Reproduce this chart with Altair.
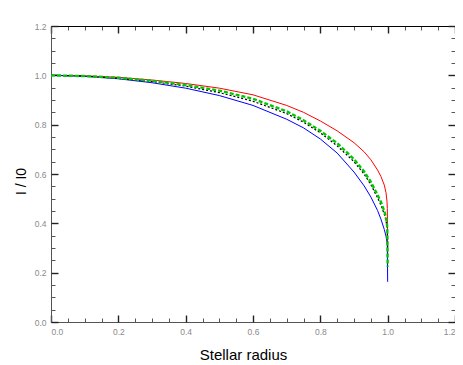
import altair as alt
import pandas as pd

# ---- data (I/I0 vs stellar radius) ----
radius = [0.0, 0.1, 0.2, 0.3, 0.4, 0.5, 0.6, 0.7, 0.75, 0.8, 0.85, 0.9, 0.93,
          0.95, 0.97, 0.98, 0.99, 0.995, 0.998, 0.999, 1.0]

red_I = [1.0, 0.998, 0.992, 0.981, 0.967, 0.948, 0.921, 0.878, 0.850, 0.815,
         0.775, 0.727, 0.690, 0.658, 0.616, 0.590, 0.555, 0.525, 0.490, 0.46, 0.27]
blue_I = [1.0, 0.996, 0.986, 0.970, 0.948, 0.918, 0.878, 0.822, 0.787, 0.742,
          0.685, 0.608, 0.552, 0.507, 0.452, 0.417, 0.375, 0.348, 0.324, 0.307, 0.163]
black_I = [1.0, 0.997, 0.988, 0.975, 0.956, 0.930, 0.895, 0.845, 0.810, 0.767,
           0.714, 0.650, 0.600, 0.557, 0.504, 0.474, 0.437, 0.412, 0.387, 0.362, 0.30]
green_I = [1.0, 0.997, 0.990, 0.978, 0.961, 0.938, 0.905, 0.854, 0.818, 0.775,
           0.725, 0.660, 0.610, 0.568, 0.515, 0.487, 0.450, 0.425, 0.397, 0.372, 0.224]

x_major = [0.0, 0.2, 0.4, 0.6, 0.8, 1.0, 1.2]
y_major = [0.0, 0.2, 0.4, 0.6, 0.8, 1.0, 1.2]
minor_step_count = 24  # ticks every 0.05 between 0 and 1.2
all_ticks = [round(k * 0.05, 2) for k in range(minor_step_count + 1)]

series = [("red", red_I, "#ff0000", 1.0, None),
          ("blue", blue_I, "#0000ff", 1.0, None),
          ("black", black_I, "#000000", 1.2, [2, 2]),
          ("green", green_I, "#00c800", 2.4, [4, 2])]

W, H = 404, 296
xscale = alt.Scale(domain=[0, 1.2], nice=False, zero=False)
yscale = alt.Scale(domain=[0, 1.2], nice=False, zero=False)

major_test = "abs(datum.value*5 - round(datum.value*5)) < 0.001"
tick_size = {"condition": {"test": major_test, "value": 7}, "value": 4}
tick_color = {"condition": {"test": major_test, "value": "#222222"}, "value": "#555555"}
tick_width = {"condition": {"test": major_test, "value": 1.4}, "value": 1}

LABEL = dict(labelColor="#8a8a8a", labelFontSize=8.5, labelFont="Liberation Sans")

ax_x = {
    "labels": alt.Axis(orient="bottom", values=x_major, format=".1f", ticks=False,
                       domain=True, domainColor="#555555", grid=False, labelPadding=5,
                       title="Stellar radius", titleFont="Liberation Sans",
                       titleFontSize=15, titleFontWeight="normal", titleColor="#000000",
                       titleAnchor="start", titleAlign="center", titleX=192, titleY=37,
                       titleBaseline="alphabetic", **LABEL),
    "bottom_ticks": alt.Axis(orient="top", offset=-H, values=all_ticks, labels=False,
                             domain=False, grid=False, title=None,
                             tickSize=tick_size, tickColor=tick_color, tickWidth=tick_width),
    "top_ticks": alt.Axis(orient="bottom", offset=-H, values=all_ticks, labels=False,
                          domain=True, domainColor="#000000", grid=False, title=None,
                          tickSize=tick_size, tickColor=tick_color, tickWidth=tick_width),
}
ax_y = {
    "labels": alt.Axis(orient="left", values=y_major, format=".1f", ticks=False,
                       domain=True, domainColor="#555555", grid=False, labelPadding=5,
                       title="I / I0", titleFont="Liberation Sans", titleFontSize=14,
                       titleFontWeight="normal", titleColor="#000000",
                       titleAngle=270, titleX=-30, titleY=155, titleAlign="center",
                       titleBaseline="middle", **LABEL),
    "left_ticks": alt.Axis(orient="right", offset=-W, values=all_ticks, labels=False,
                           domain=False, grid=False, title=None,
                           tickSize=tick_size, tickColor=tick_color, tickWidth=tick_width),
    "right_ticks": alt.Axis(orient="left", offset=-W, values=all_ticks, labels=False,
                            domain=True, domainColor="#000000", grid=False, title=None,
                            tickSize=tick_size, tickColor=tick_color, tickWidth=tick_width),
}
x_keys = ["labels", "bottom_ticks", "top_ticks", None]
y_keys = ["labels", "left_ticks", "right_ticks", None]

layers = []
for k, (name, vals, color, width, dash) in enumerate(series):
    df = pd.DataFrame({"r": radius, "I": vals, "i": list(range(len(radius)))})
    mark_kw = dict(color=color, strokeWidth=width, clip=True)
    if dash:
        mark_kw["strokeDash"] = dash
    xa = ax_x[x_keys[k]] if x_keys[k] else None
    ya = ax_y[y_keys[k]] if y_keys[k] else None
    layer = alt.Chart(df).mark_line(**mark_kw).encode(
        x=alt.X("r:Q", scale=xscale, axis=xa),
        y=alt.Y("I:Q", scale=yscale, axis=ya),
        order="i:Q",
    )
    layers.append(layer)

chart = alt.layer(*layers).resolve_axis(x="independent", y="independent").properties(
    width=W, height=H,
    autosize=alt.AutoSizeParams(type="none"),
    padding={"left": 43, "top": 18, "right": 0, "bottom": 40},
).configure_view(stroke=None).configure(background="#ffffff")

chart.save("out.html", embed_options={"renderer": "svg", "actions": False})
